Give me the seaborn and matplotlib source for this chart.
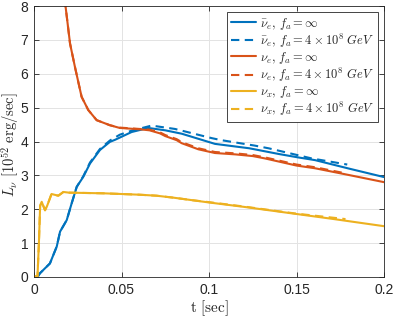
import numpy as np
import pandas as pd
import matplotlib
matplotlib.use("Agg")
import matplotlib.pyplot as plt
import seaborn as sns

# ---- data ----
t_nuebar = [0.002, 0.0034, 0.0091, 0.013, 0.0149, 0.0187, 0.0215, 0.0244, 0.0282, 0.032,
            0.0377, 0.0434, 0.0463, 0.0558, 0.0653, 0.075, 0.0844, 0.1034, 0.123, 0.14,
            0.151, 0.1606, 0.18, 0.2]
L_nuebar = [0.0, 0.11, 0.40, 0.90, 1.34, 1.68, 2.17, 2.66, 2.96, 3.35,
            3.75, 3.99, 4.05, 4.28, 4.40, 4.33, 4.23, 3.93, 3.80, 3.63,
            3.53, 3.45, 3.20, 2.95]

t_nuebar_fa = [0.002, 0.0034, 0.0091, 0.013, 0.0149, 0.0187, 0.0215, 0.0244, 0.0282, 0.032,
               0.0377, 0.0434, 0.049, 0.0558, 0.0672, 0.0806, 0.1015, 0.107, 0.126, 0.134,
               0.1587, 0.179]
L_nuebar_fa = [0.0, 0.11, 0.40, 0.90, 1.34, 1.68, 2.17, 2.66, 2.98, 3.38,
               3.78, 4.03, 4.20, 4.32, 4.47, 4.37, 4.10, 4.04, 3.88, 3.80,
               3.50, 3.32]

t_nue = [0.010, 0.015, 0.018, 0.0206, 0.0234, 0.0272, 0.031, 0.0358, 0.0434, 0.049,
         0.0606, 0.066, 0.072, 0.075, 0.0815, 0.0844, 0.0939, 0.1034, 0.115, 0.125,
         0.132, 0.15, 0.1606, 0.18, 0.2]
L_nue = [11.0, 9.0, 8.0, 6.89, 6.20, 5.32, 4.93, 4.63, 4.48, 4.40,
         4.36, 4.33, 4.24, 4.16, 4.04, 3.95, 3.77, 3.66, 3.62, 3.57,
         3.50, 3.29, 3.21, 3.01, 2.80]

t_nue_fa = [0.010, 0.015, 0.018, 0.0206, 0.0234, 0.0272, 0.031, 0.0358, 0.0434, 0.049,
            0.0606, 0.066, 0.072, 0.075, 0.0815, 0.0844, 0.0939, 0.1034, 0.115, 0.125,
            0.132, 0.15, 0.1606, 0.178]
L_nue_fa = [11.0, 9.0, 8.0, 6.89, 6.20, 5.32, 4.93, 4.63, 4.48, 4.41,
            4.37, 4.35, 4.27, 4.19, 4.07, 3.98, 3.80, 3.69, 3.65, 3.60,
            3.53, 3.32, 3.24, 3.06]

t_nux = [0.0, 0.002, 0.0028, 0.0035, 0.0044, 0.0063, 0.0075, 0.010, 0.0139, 0.0168,
         0.02, 0.03, 0.04, 0.05, 0.06, 0.07, 0.08, 0.09, 0.1, 0.12,
         0.15, 0.17, 0.2]
L_nux = [0.02, 0.02, 1.0, 2.1, 2.22, 1.97, 2.1, 2.45, 2.40, 2.51,
         2.49, 2.48, 2.47, 2.45, 2.43, 2.40, 2.34, 2.27, 2.20, 2.07,
         1.86, 1.72, 1.50]

t_nux_fa = [0.0, 0.002, 0.0028, 0.0035, 0.0044, 0.0063, 0.0075, 0.010, 0.0139, 0.0168,
            0.02, 0.03, 0.04, 0.05, 0.06, 0.07, 0.08, 0.09, 0.1, 0.12,
            0.15, 0.178]
L_nux_fa = [0.02, 0.02, 1.0, 2.1, 2.22, 1.97, 2.1, 2.45, 2.40, 2.51,
            2.49, 2.48, 2.47, 2.45, 2.43, 2.40, 2.34, 2.27, 2.21, 2.08,
            1.87, 1.71]

labels = [r"$\bar{\nu}_e,\, f_a = \infty$",
          r"$\bar{\nu}_e,\, f_a = 4\times 10^8\ GeV$",
          r"$\nu_e,\, f_a = \infty$",
          r"$\nu_e,\, f_a = 4\times 10^8\ GeV$",
          r"$\nu_x,\, f_a = \infty$",
          r"$\nu_x,\, f_a = 4\times 10^8\ GeV$"]
xticks = [0, 0.05, 0.1, 0.15, 0.2]
xticklabels = ["0", "0.05", "0.1", "0.15", "0.2"]
yticks = [0, 1, 2, 3, 4, 5, 6, 7, 8]

# ---- style ----
sns.set_style("ticks")
plt.rcParams["font.family"] = ["Liberation Sans", "DejaVu Sans"]
plt.rcParams["mathtext.fontset"] = "cm"

blue, red, yellow = "#0072BD", "#D95319", "#EDB120"
series = [
    (t_nuebar, L_nuebar, blue, "-"),
    (t_nuebar_fa, L_nuebar_fa, blue, "--"),
    (t_nue, L_nue, red, "-"),
    (t_nue_fa, L_nue_fa, red, "--"),
    (t_nux, L_nux, yellow, "-"),
    (t_nux_fa, L_nux_fa, yellow, "--"),
]

fig = plt.figure(figsize=(3.95, 3.17), dpi=100)
ax = fig.add_axes([34 / 395, 1 - 277 / 317, (384 - 34) / 395, (277 - 6) / 317])

for (t, L, c, ls), lab in zip(series, labels):
    df = pd.DataFrame({"t": t, "L": L})
    sns.lineplot(data=df, x="t", y="L", ax=ax, color=c, linewidth=1.5,
                 label=lab, sort=False, estimator=None)
    line = ax.lines[-1]
    if ls == "--":
        line.set_dashes((4, 2.6))

ax.set_xlim(0, 0.2)
ax.set_ylim(0, 8)
ax.set_xticks(xticks)
ax.set_xticklabels(xticklabels)
ax.set_yticks(yticks)
ax.tick_params(direction="in", length=3.5, width=0.6, top=True, right=True,
               labelsize=10, colors="#262626", pad=4)
for s in ax.spines.values():
    s.set_color("#262626")
    s.set_linewidth(0.6)
ax.grid(True, color="#e3e3e3", linewidth=0.7)
ax.set_axisbelow(True)

ax.set_xlabel(r"$\mathrm{t\ [sec]}$", fontsize=11, labelpad=1)
ax.set_ylabel(r"$L_\nu\ [10^{52}\ \mathrm{erg/sec}]$", fontsize=10.5)
ax.yaxis.set_label_coords(-0.037, 0.49)

leg = ax.legend(loc="upper right", fontsize=9, frameon=True, fancybox=False,
                framealpha=1, edgecolor="#262626", borderaxespad=0.48,
                handlelength=2.0, handletextpad=0.3, labelspacing=0.0,
                borderpad=0.3)
leg.get_frame().set_linewidth(0.6)

fig.savefig("out.png", dpi=100)
